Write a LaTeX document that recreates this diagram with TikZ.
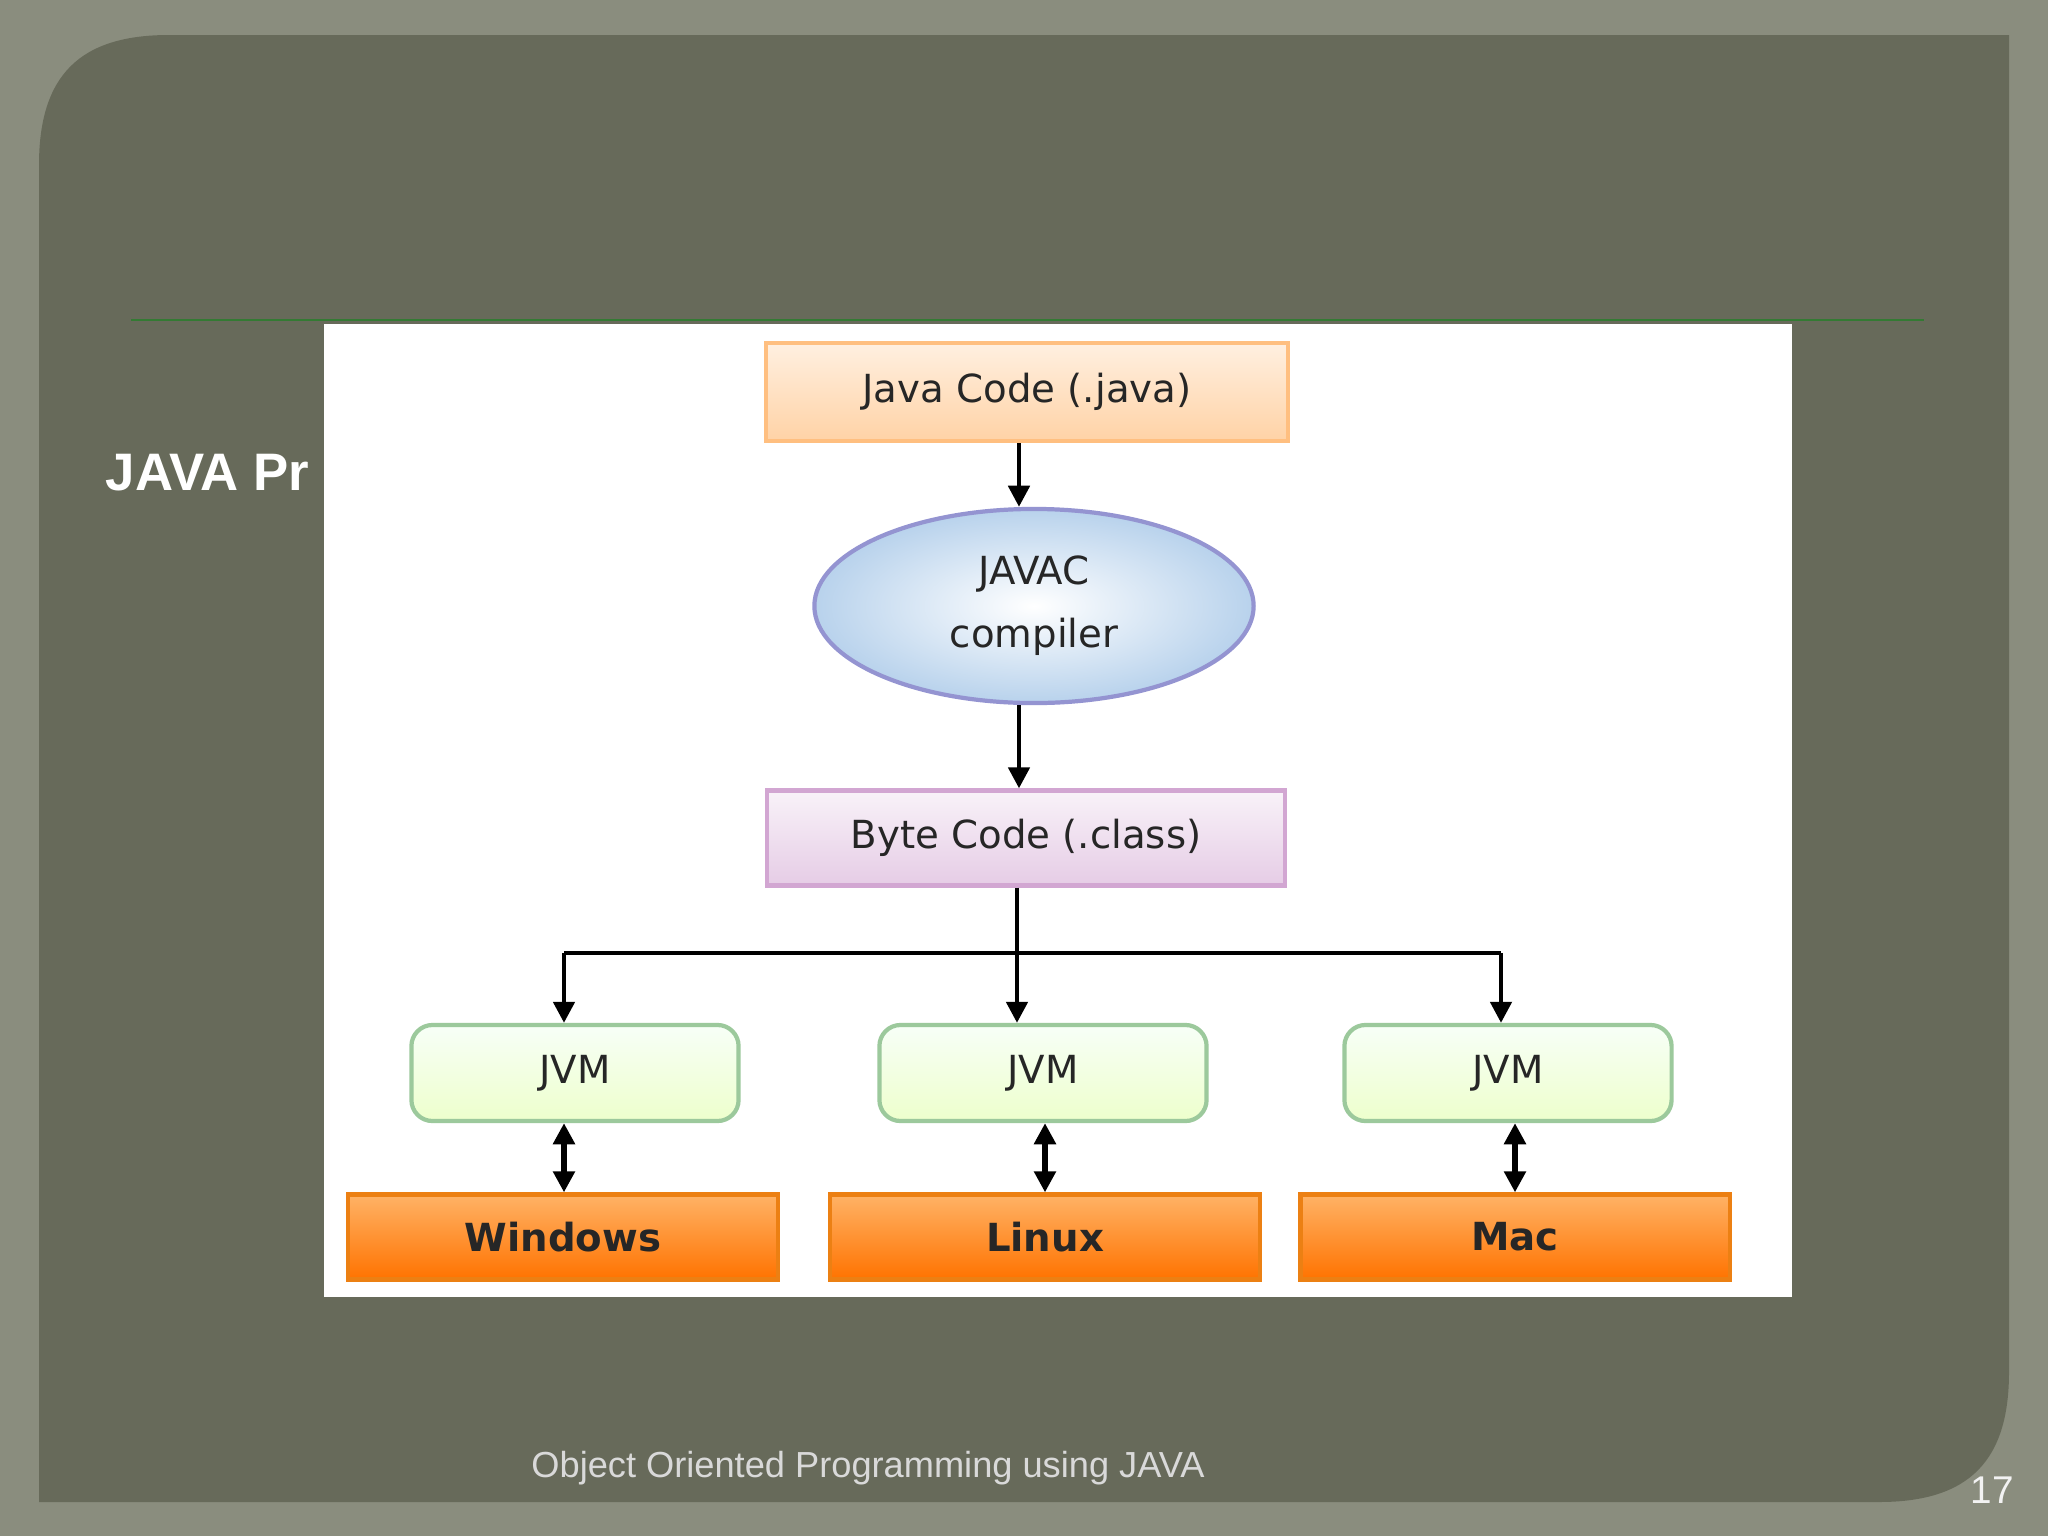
\documentclass[tikz,border=0pt]{standalone}
\usepackage{fontspec}
\setmainfont{DejaVu Sans}
\newfontfamily\lib{Liberation Sans}
\usetikzlibrary{shapes.geometric,arrows.meta}
\definecolor{bg}{HTML}{8A8D7E}
\definecolor{panel}{HTML}{676A5A}
\definecolor{ellb}{HTML}{B8D2EC}
\begin{document}
\begin{tikzpicture}[x=0.01cm,y=-0.01cm,
  box/.style={draw,line width=1.2pt,minimum height=0.96cm,font=\fontsize{11}{13}\selectfont,text=black!85},
  jvm/.style={box,rounded corners=6pt,minimum width=3.27cm,draw=green!30!gray!60,top color=green!3!white,bottom color=green!35!yellow!20!white},
  os/.style={box,minimum width=4.29cm,minimum height=0.85cm,draw=orange!70!brown,top color=orange!60!white,bottom color=orange!90!red,font=\fontsize{11}{13}\selectfont\bfseries},
  arr/.style={-{Triangle[length=6pt,width=6pt]},line width=1.3pt},
  darr/.style={{Triangle[length=6pt,width=6pt]}-{Triangle[length=6pt,width=6pt]},line width=1.5pt}]
\fill[bg] (0,0) rectangle (2048,1536);
\useasboundingbox (0,0) rectangle (2048,1536);
\fill[panel] (39,1502) -- (39,165) .. controls (39,75) and (80,35) .. (169,35) -- (2009,35) -- (2009,1372) .. controls (2009,1460) and (1970,1502) .. (1879,1502) -- cycle;
\draw[green!35!black!80,line width=0.8pt] (131,320) -- (1924,320);
\node[anchor=west,text=white,font=\lib\fontsize{15}{18}\selectfont\bfseries,inner sep=0pt] (jp) at (105,473) {JAVA Pr};
\fill[white] (324,324) rectangle (1792,1297);
\node[box,minimum width=5.21cm,minimum height=0.98cm,draw=orange!50!white,top color=orange!12!white,bottom color=orange!35!white] (java) at (1027,392) {Java Code (.java)};
\node[ellipse,draw=blue!40!gray!60,line width=1.2pt,minimum width=4.39cm,minimum height=1.94cm,inner color=white,outer color=ellb,align=center,font=\fontsize{11}{18}\selectfont,text=black!85] (javac) at (1034,606) {JAVAC\\compiler};
\node[box,minimum width=5.18cm,minimum height=0.95cm,draw=violet!35!white,top color=violet!5!white,bottom color=violet!20!white] (byte) at (1026,838) {Byte Code (.class)};
\node[jvm] (j1) at (575,1073) {JVM};
\node[jvm] (j2) at (1043,1073) {JVM};
\node[jvm] (j3) at (1508,1073) {JVM};
\node[os] (w) at (563,1237) {Windows};
\node[os] (l) at (1045,1237) {Linux};
\node[os] (m) at (1515,1237) {Mac};
\draw[arr] (java.south -| 1019,0) -- (javac.north -| 1019,0);
\draw[arr] (javac.south -| 1019,0) -- (byte.north -| 1019,0);
\coordinate (b) at (1017,953);
\draw[line width=1.3pt] (byte.south -| b) -- (b);
\draw[line width=1.3pt] (564,953) -- (1501,953);
\draw[arr] (564,953) -- (j1.north -| 564,0);
\draw[arr] (b) -- (j2.north -| b);
\draw[arr] (1501,953) -- (j3.north -| 1501,0);
\draw[darr] (j1.south -| 564,0) -- (w.north -| 564,0);
\draw[darr] (j2.south -| 1045,0) -- (l.north);
\draw[darr] (j3.south -| 1515,0) -- (m.north);
\node[text=gray!30,font=\lib\fontsize{10.3}{12}\selectfont] (f) at (868,1468) {Object Oriented Programming using JAVA};
\node[text=white!90!gray,font=\lib\fontsize{11}{13}\selectfont] (n) at (1992,1490) {17};
\end{tikzpicture}
\end{document}
